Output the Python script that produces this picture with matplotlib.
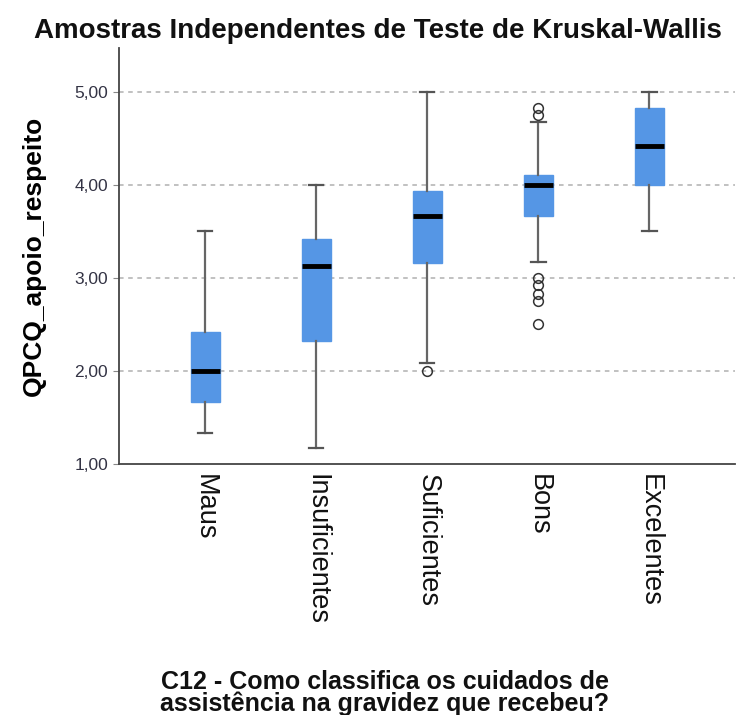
"""SPSS-style Kruskal-Wallis boxplot: QPCQ_apoio_respeito by rating of pregnancy care."""
import matplotlib
matplotlib.use("Agg")
import matplotlib.pyplot as plt

categories = ["Maus", "Insuficientes", "Suficientes", "Bons", "Excelentes"]
whisker_low = [1.33, 1.17, 2.08, 3.17, 3.50]
q1 = [1.67, 2.32, 3.16, 3.66, 4.00]
medians = [2.00, 3.125, 3.67, 4.00, 4.42]
q3 = [2.42, 3.42, 3.93, 4.10, 4.83]
whisker_high = [3.50, 4.00, 5.00, 4.67, 5.00]
outliers = [
    [],
    [],
    [2.00],
    [4.83, 4.75, 3.00, 2.92, 2.83, 2.75, 2.50],
    [],
]
y_ticks = [1, 2, 3, 4, 5]

plt.rcParams["font.family"] = ["Liberation Sans", "DejaVu Sans"]

fig = plt.figure(figsize=(7.41, 7.15), dpi=100)
ax = fig.add_axes([119 / 741, 1 - 464 / 715, (735 - 119) / 741, (464 - 48) / 715])

stats = []
for i, name in enumerate(categories):
    stats.append({
        "label": name,
        "whislo": whisker_low[i],
        "q1": q1[i],
        "med": medians[i],
        "q3": q3[i],
        "whishi": whisker_high[i],
        "fliers": outliers[i],
    })

ax.bxp(
    stats,
    positions=range(len(categories)),
    widths=0.26,
    patch_artist=True,
    showfliers=True,
    boxprops=dict(facecolor="#5596e5", edgecolor="#5596e5", linewidth=1),
    medianprops=dict(color="black", linewidth=3.5, solid_capstyle="butt"),
    whiskerprops=dict(color="#666666", linewidth=1.6),
    capprops=dict(color="#555555", linewidth=1.6),
    capwidths=0.13,
    flierprops=dict(marker="o", markerfacecolor="none", markeredgecolor="#333333",
                    markersize=7, markeredgewidth=1.1),
    zorder=3,
)

ax.set_xlim(-0.775, 4.77)
ax.set_ylim(1.0, 5.47)
ax.set_yticks(y_ticks)
ax.set_yticklabels([f"{v:.2f}".replace(".", ",") for v in y_ticks],
                   fontsize=12.5, color="#333344")
ax.set_xticks(range(len(categories)))
ax.set_xticklabels(categories, rotation=-90, fontsize=19.5, color="#111111",
                   ha="center", va="top")
ax.tick_params(axis="x", length=0, pad=7)
ax.tick_params(axis="y", length=4, color="#888888", pad=4)

for y in y_ticks[1:]:
    ax.axhline(y, color="#b0b0b0", linestyle=(0, (3, 3)), linewidth=1.1, zorder=1)

for side in ["top", "right"]:
    ax.spines[side].set_visible(False)
for side in ["left", "bottom"]:
    ax.spines[side].set_color("#444444")
    ax.spines[side].set_linewidth(1.3)

ax.set_ylabel("QPCQ_apoio_respeito", fontsize=19, fontweight="bold", labelpad=20)

fig.text(378 / 741, 1 - 31 / 715, "Amostras Independentes de Teste de Kruskal-Wallis",
         ha="center", va="center", fontsize=20, fontweight="bold", color="#111111")
fig.text(385 / 741, 1 - 693 / 715,
         "C12 - Como classifica os cuidados de\nassistência na gravidez que recebeu?",
         ha="center", va="center", fontsize=18, fontweight="bold", color="#111111",
         linespacing=0.85)

fig.savefig("out.png", dpi=100)
